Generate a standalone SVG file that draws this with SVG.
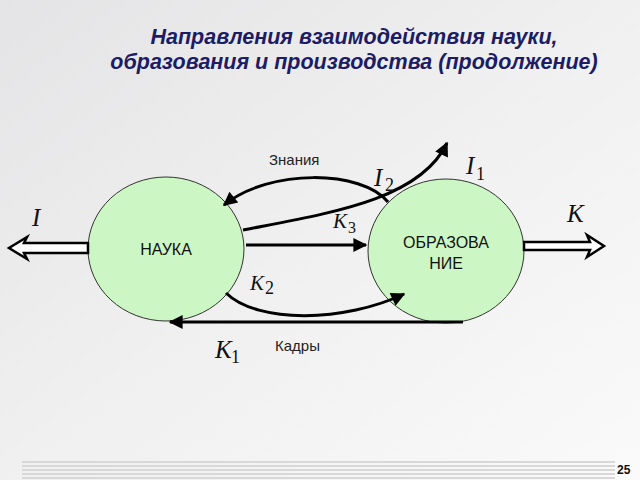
<svg xmlns="http://www.w3.org/2000/svg" width="640" height="480" viewBox="0 0 640 480">
<defs>
<linearGradient id="bg" x1="0" y1="0" x2="1" y2="1">
<stop offset="0" stop-color="#e4e4e6"/>
<stop offset="0.5" stop-color="#f0f0f0"/>
<stop offset="1" stop-color="#fafafa"/>
</linearGradient>
<marker id="ah" viewBox="0 0 10 10" refX="9" refY="5" markerWidth="20" markerHeight="14" markerUnits="userSpaceOnUse" orient="auto">
<path d="M0,0 L10,5 L0,10 Z" fill="#000"/>
</marker>
<style>
.node{fill:#ccf7c5;stroke:#333;stroke-width:1}
.ntext{font-family:"Liberation Sans",Arial,sans-serif;font-size:16px;fill:#111;text-anchor:middle}
.edge{fill:none;stroke:#000;stroke-width:3}
.dbl{fill:#fff;stroke:#000;stroke-width:2.5;stroke-linejoin:miter}
.m{font-family:"Liberation Serif","Times New Roman",serif;font-style:italic;font-size:25px;fill:#111}
.sub{font-family:"Liberation Serif","Times New Roman",serif;font-size:18px;fill:#111}
.lbl{font-family:"Liberation Sans",Arial,sans-serif;font-size:15px;fill:#222}
.title{font-family:"Liberation Sans",Arial,sans-serif;font-size:21.5px;font-weight:bold;font-style:italic;fill:#1c1c66;text-anchor:middle}
.stripe{stroke:#d8d8d8;stroke-width:2}
</style>
</defs>
<rect x="0" y="0" width="640" height="480" fill="url(#bg)"/>
<g id="title">
<text class="title" x="354" y="44">Направления взаимодействия науки,</text>
<text class="title" x="354" y="69">образования и производства (продолжение)</text>
</g>
<g id="nauka">
<ellipse class="node" cx="166" cy="249" rx="78" ry="72"/>
<text class="ntext" x="166" y="255">НАУКА</text>
</g>
<g id="obrazovanie">
<ellipse class="node" cx="446" cy="251" rx="78" ry="72"/>
<text class="ntext" x="446" y="248">ОБРАЗОВА</text>
<text class="ntext" x="446" y="269">НИЕ</text>
</g>
<g id="connectors">
<polygon class="dbl" points="88,243 24,243 27,237 9,248 27,259 24,253 88,253"/>
<polygon class="dbl" points="524,242 590,242 587,235 604,246 587,257 590,250 524,250"/>
<path class="edge" d="M388,202 C362,170 270,168 224,205" marker-end="url(#ah)"/>
<path class="edge" d="M243,230 C330,213 420,200 447,143" marker-end="url(#ah)"/>
<path class="edge" d="M246,245 L366,245" marker-end="url(#ah)"/>
<path class="edge" d="M226,293 C258,324 345,322 404,294" marker-end="url(#ah)"/>
<path class="edge" d="M463,322 L170,322" marker-end="url(#ah)"/>
</g>
<g id="labels">
<text class="lbl" x="269" y="165">Знания</text>
<text class="lbl" x="275" y="351">Кадры</text>
<text class="m" x="32" y="226">I</text>
<text class="m" x="374" y="186">I</text><text class="sub" x="385" y="191">2</text>
<text class="m" x="466" y="174">I</text><text class="sub" x="476" y="180">1</text>
<text class="m" x="333" y="228" style="font-size:21px">K</text><text class="sub" x="348" y="233" style="font-size:16px">3</text>
<text class="m" x="567" y="222">K</text>
<text class="m" x="250" y="290" style="font-size:21px">K</text><text class="sub" x="265" y="294">2</text>
<text class="m" x="215" y="358">K</text><text class="sub" x="231" y="363">1</text>
</g>
<g id="footer">
<line class="stripe" x1="22" y1="462" x2="615" y2="462"/>
<line class="stripe" x1="22" y1="466" x2="615" y2="466"/>
<line class="stripe" x1="22" y1="470" x2="615" y2="470"/>
<line class="stripe" x1="22" y1="474" x2="615" y2="474"/>
<line class="stripe" x1="22" y1="478" x2="615" y2="478"/>
<text x="617" y="474" style="font-family:'Liberation Sans',Arial,sans-serif;font-size:12px;font-weight:bold;fill:#111">25</text>
</g>
</svg>
